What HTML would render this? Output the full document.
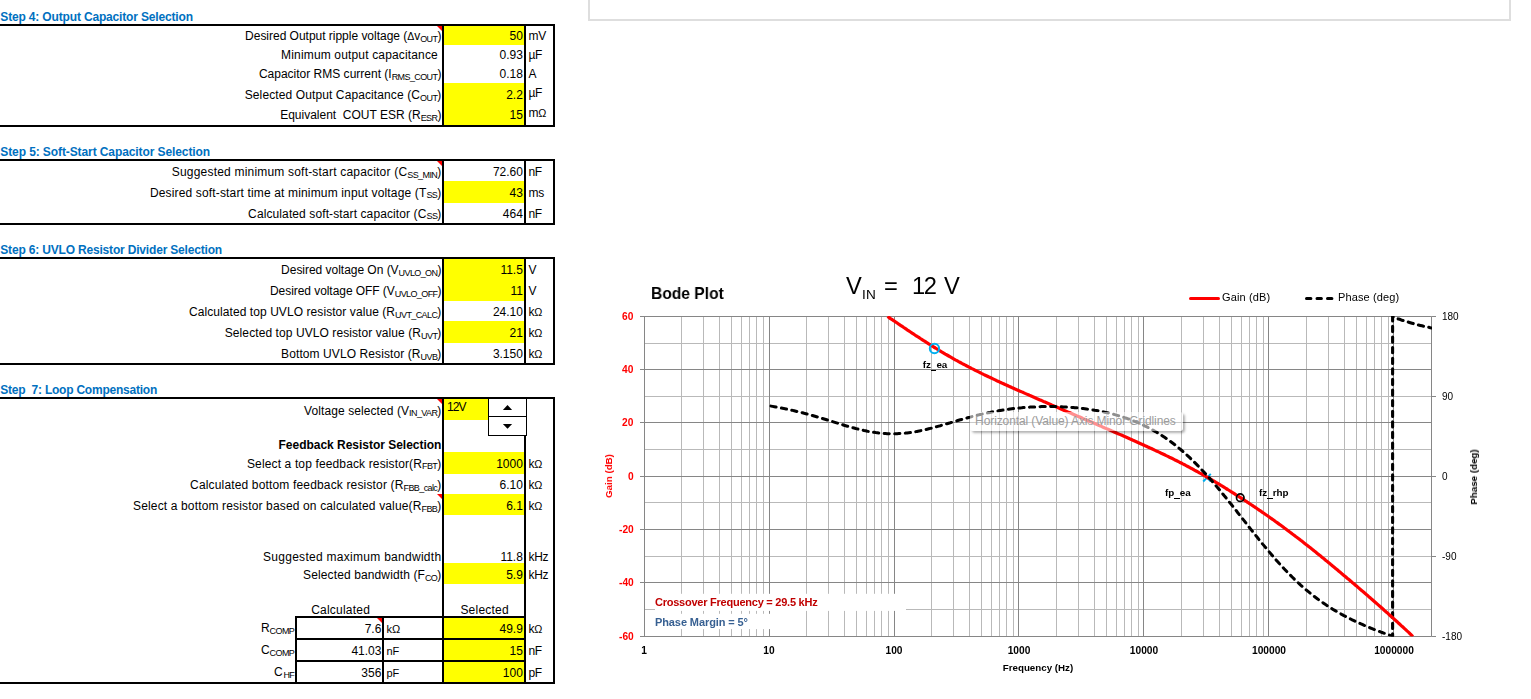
<!DOCTYPE html>
<html><head><meta charset="utf-8"><title>Design sheet</title>
<style>
html,body{margin:0;padding:0;background:#fff;}
body{width:1531px;height:699px;position:relative;overflow:hidden;font-family:"Liberation Sans",sans-serif;color:#000;}
.r{position:absolute;}
.t{position:absolute;white-space:nowrap;}
.ttl{color:#0070c0;font-weight:bold;}
.g{will-change:transform;}
.s{position:relative;}
.us{display:inline-block;width:5.5px;height:0;border-bottom:1.5px solid #000;vertical-align:-2.6px;}
.tri{position:absolute;width:0;height:0;border-left:5px solid transparent;border-top:5px solid #ff0000;}
.spin{position:absolute;background:#fff;border:1px solid #000;box-sizing:content-box;}
.tip{position:absolute;background:rgba(255,255,255,0.56);border-radius:3px;box-shadow:2px 2px 2.5px rgba(0,0,0,0.3);box-sizing:border-box;}
.tip span{position:absolute;left:5.6px;top:2.6px;font-size:12px;line-height:15px;color:#9c9c9c;white-space:nowrap;letter-spacing:-0.1px;}
</style></head><body>
<div class="r" style="left:588px;top:0px;width:2px;height:21px;background:#dedede"></div>
<div class="r" style="left:1509px;top:0px;width:2px;height:21px;background:#dedede"></div>
<div class="r" style="left:588px;top:19px;width:923px;height:2px;background:#dedede"></div>
<div class="t ttl" style="top:10.34px;font-size:12px;line-height:15px;left:0.3px;letter-spacing:-0.160px;">Step 4: Output Capacitor Selection</div>
<div class="t ttl" style="top:144.94px;font-size:12px;line-height:15px;left:0.3px;letter-spacing:-0.097px;">Step 5: Soft-Start Capacitor Selection</div>
<div class="t ttl" style="top:242.84px;font-size:12px;line-height:15px;left:0.3px;letter-spacing:-0.180px;">Step 6: UVLO Resistor Divider Selection</div>
<div class="t ttl" style="top:382.74px;font-size:12px;line-height:15px;left:0.3px;letter-spacing:-0.230px;">Step&nbsp; 7: Loop Compensation</div>
<div class="r" style="left:444px;top:26px;width:80px;height:19px;background:#ffff00"></div>
<div class="t " style="top:28.94px;font-size:12px;line-height:15px;right:1089.6px;letter-spacing:-0.020px;">Desired Output ripple voltage (<span style="font-size:10.5px">Δ</span>v<span class="s" style="font-size:9px;top:1.7px;letter-spacing:-0.6px">OUT</span>)</div>
<div class="t " style="top:28.94px;font-size:12px;line-height:15px;right:1008.2px;letter-spacing:-0.020px;">50</div>
<div class="t " style="top:28.94px;font-size:12px;line-height:15px;left:528.5px;letter-spacing:-0.300px;">mV</div>
<div class="t " style="top:47.94px;font-size:12px;line-height:15px;right:1089.6px;letter-spacing:0.156px;">Minimum output capacitance&nbsp;</div>
<div class="t " style="top:47.94px;font-size:12px;line-height:15px;right:1008.2px;letter-spacing:-0.020px;">0.93</div>
<div class="t " style="top:47.94px;font-size:12px;line-height:15px;left:528.5px;letter-spacing:-0.300px;">µF</div>
<div class="t " style="top:66.94px;font-size:12px;line-height:15px;right:1089.6px;letter-spacing:0.004px;">Capacitor RMS current (I<span class="s" style="font-size:9px;top:1.7px;letter-spacing:-0.6px">RMS_COUT</span>)</div>
<div class="t " style="top:66.94px;font-size:12px;line-height:15px;right:1008.2px;letter-spacing:-0.020px;">0.18</div>
<div class="t " style="top:66.94px;font-size:12px;line-height:15px;left:528.5px;letter-spacing:-0.300px;">A</div>
<div class="r" style="left:444px;top:83px;width:80px;height:21px;background:#ffff00"></div>
<div class="t " style="top:87.94px;font-size:12px;line-height:15px;right:1089.6px;letter-spacing:0.109px;">Selected Output Capacitance (C<span class="s" style="font-size:9px;top:1.7px;letter-spacing:-0.6px">OUT</span>)</div>
<div class="t " style="top:87.94px;font-size:12px;line-height:15px;right:1008.2px;letter-spacing:-0.020px;">2.2</div>
<div class="t " style="top:86.04px;font-size:12px;line-height:15px;left:528.5px;letter-spacing:-0.300px;">µF</div>
<div class="r" style="left:444px;top:104px;width:80px;height:21px;background:#ffff00"></div>
<div class="t " style="top:108.34px;font-size:12px;line-height:15px;right:1089.6px;letter-spacing:0.003px;">Equivalent&nbsp; COUT ESR (R<span class="s" style="font-size:9px;top:1.7px;letter-spacing:-0.6px">ESR</span>)</div>
<div class="t " style="top:108.34px;font-size:12px;line-height:15px;right:1008.2px;letter-spacing:-0.020px;">15</div>
<div class="t " style="top:106.14px;font-size:12px;line-height:15px;left:528.5px;letter-spacing:-0.300px;">m<span style="font-size:10.8px">Ω</span></div>
<div class="r" style="left:0px;top:24px;width:555px;height:2px;background:#000"></div>
<div class="r" style="left:0px;top:125px;width:555px;height:2px;background:#000"></div>
<div class="r" style="left:442px;top:24px;width:2px;height:103px;background:#000"></div>
<div class="r" style="left:524px;top:24px;width:2px;height:103px;background:#000"></div>
<div class="r" style="left:553px;top:24px;width:2px;height:103px;background:#000"></div>
<div class="tri" style="left:437px;top:26px"></div>
<div class="t " style="top:164.94px;font-size:12px;line-height:15px;right:1089.6px;letter-spacing:0.197px;">Suggested minimum soft-start capacitor (C<span class="s" style="font-size:9px;top:1.7px;letter-spacing:-0.6px">SS_MIN</span>)</div>
<div class="t " style="top:164.94px;font-size:12px;line-height:15px;right:1008.2px;letter-spacing:-0.020px;">72.60</div>
<div class="t " style="top:164.94px;font-size:12px;line-height:15px;left:528.5px;letter-spacing:-0.300px;">nF</div>
<div class="r" style="left:444px;top:181px;width:80px;height:22px;background:#ffff00"></div>
<div class="t " style="top:185.74px;font-size:12px;line-height:15px;right:1089.6px;letter-spacing:0.152px;">Desired soft-start time at minimum input voltage (T<span class="s" style="font-size:9px;top:1.7px;letter-spacing:-0.6px">SS</span>)</div>
<div class="t " style="top:185.74px;font-size:12px;line-height:15px;right:1008.2px;letter-spacing:-0.020px;">43</div>
<div class="t " style="top:185.74px;font-size:12px;line-height:15px;left:528.5px;letter-spacing:-0.300px;">ms</div>
<div class="t " style="top:206.74px;font-size:12px;line-height:15px;right:1089.6px;letter-spacing:0.107px;">Calculated soft-start capacitor (C<span class="s" style="font-size:9px;top:1.7px;letter-spacing:-0.6px">SS</span>)</div>
<div class="t " style="top:206.74px;font-size:12px;line-height:15px;right:1008.2px;letter-spacing:-0.020px;">464</div>
<div class="t " style="top:206.74px;font-size:12px;line-height:15px;left:528.5px;letter-spacing:-0.300px;">nF</div>
<div class="r" style="left:0px;top:159px;width:555px;height:2px;background:#000"></div>
<div class="r" style="left:0px;top:223px;width:555px;height:2px;background:#000"></div>
<div class="r" style="left:442px;top:159px;width:2px;height:66px;background:#000"></div>
<div class="r" style="left:524px;top:159px;width:2px;height:66px;background:#000"></div>
<div class="r" style="left:553px;top:159px;width:2px;height:66px;background:#000"></div>
<div class="tri" style="left:437px;top:161px"></div>
<div class="r" style="left:444px;top:259px;width:80px;height:21px;background:#ffff00"></div>
<div class="t " style="top:263.14px;font-size:12px;line-height:15px;right:1089.6px;letter-spacing:-0.027px;">Desired voltage On (V<span class="s" style="font-size:9px;top:1.7px;letter-spacing:-0.6px">UVLO_ON</span>)</div>
<div class="t " style="top:263.14px;font-size:12px;line-height:15px;right:1008.2px;letter-spacing:-0.020px;">11.5</div>
<div class="t " style="top:263.14px;font-size:12px;line-height:15px;left:528.5px;letter-spacing:-0.300px;">V</div>
<div class="r" style="left:444px;top:280px;width:80px;height:21px;background:#ffff00"></div>
<div class="t " style="top:284.04px;font-size:12px;line-height:15px;right:1089.6px;letter-spacing:-0.059px;">Desired voltage OFF (V<span class="s" style="font-size:9px;top:1.7px;letter-spacing:-0.6px">UVLO_OFF</span>)</div>
<div class="t " style="top:284.04px;font-size:12px;line-height:15px;right:1008.2px;letter-spacing:-0.020px;">11</div>
<div class="t " style="top:284.04px;font-size:12px;line-height:15px;left:528.5px;letter-spacing:-0.300px;">V</div>
<div class="t " style="top:305.34px;font-size:12px;line-height:15px;right:1089.6px;letter-spacing:0.073px;">Calculated top UVLO resistor value (R<span class="s" style="font-size:9px;top:1.7px;letter-spacing:-0.6px">UVT_CALC</span>)</div>
<div class="t " style="top:305.34px;font-size:12px;line-height:15px;right:1008.2px;letter-spacing:-0.020px;">24.10</div>
<div class="t " style="top:305.34px;font-size:12px;line-height:15px;left:528.5px;letter-spacing:-0.300px;">k<span style="font-size:10.8px">Ω</span></div>
<div class="r" style="left:444px;top:321px;width:80px;height:22px;background:#ffff00"></div>
<div class="t " style="top:326.34px;font-size:12px;line-height:15px;right:1089.6px;letter-spacing:0.083px;">Selected top UVLO resistor value (R<span class="s" style="font-size:9px;top:1.7px;letter-spacing:-0.6px">UVT</span>)</div>
<div class="t " style="top:326.34px;font-size:12px;line-height:15px;right:1008.2px;letter-spacing:-0.020px;">21</div>
<div class="t " style="top:326.34px;font-size:12px;line-height:15px;left:528.5px;letter-spacing:-0.300px;">k<span style="font-size:10.8px">Ω</span></div>
<div class="t " style="top:347.24px;font-size:12px;line-height:15px;right:1089.6px;letter-spacing:0.092px;">Bottom UVLO Resistor (R<span class="s" style="font-size:9px;top:1.7px;letter-spacing:-0.6px">UVB</span>)</div>
<div class="t " style="top:347.24px;font-size:12px;line-height:15px;right:1008.2px;letter-spacing:-0.020px;">3.150</div>
<div class="t " style="top:347.24px;font-size:12px;line-height:15px;left:528.5px;letter-spacing:-0.300px;">k<span style="font-size:10.8px">Ω</span></div>
<div class="r" style="left:0px;top:257px;width:555px;height:2px;background:#000"></div>
<div class="r" style="left:0px;top:363px;width:555px;height:2px;background:#000"></div>
<div class="r" style="left:442px;top:257px;width:2px;height:108px;background:#000"></div>
<div class="r" style="left:524px;top:257px;width:2px;height:108px;background:#000"></div>
<div class="r" style="left:553px;top:257px;width:2px;height:108px;background:#000"></div>
<div class="t " style="top:403.74px;font-size:12px;line-height:15px;right:1089.6px;letter-spacing:0.082px;">Voltage selected (V<span class="s" style="font-size:9px;top:1.7px;letter-spacing:-0.6px">IN_VAR</span>)</div>
<div class="t " style="top:437.84px;font-size:12px;line-height:15px;right:1089.6px;letter-spacing:-0.019px;"><b>Feedback Resistor Selection</b></div>
<div class="r" style="left:444px;top:452px;width:80px;height:22px;background:#ffff00"></div>
<div class="t " style="top:456.74px;font-size:12px;line-height:15px;right:1089.6px;letter-spacing:0.135px;">Select a top feedback resistor(R<span class="s" style="font-size:9px;top:1.7px;letter-spacing:-0.6px">FBT</span>)</div>
<div class="t " style="top:456.74px;font-size:12px;line-height:15px;right:1008.2px;letter-spacing:-0.020px;">1000</div>
<div class="t " style="top:456.74px;font-size:12px;line-height:15px;left:528.5px;letter-spacing:-0.300px;">k<span style="font-size:10.8px">Ω</span></div>
<div class="t " style="top:477.84px;font-size:12px;line-height:15px;right:1089.6px;letter-spacing:0.158px;">Calculated bottom feedback resistor (R<span class="s" style="font-size:9px;top:1.7px;letter-spacing:-0.6px">FBB_calc</span>)</div>
<div class="t " style="top:477.84px;font-size:12px;line-height:15px;right:1008.2px;letter-spacing:-0.020px;">6.10</div>
<div class="t " style="top:477.84px;font-size:12px;line-height:15px;left:528.5px;letter-spacing:-0.300px;">k<span style="font-size:10.8px">Ω</span></div>
<div class="r" style="left:444px;top:494px;width:80px;height:21px;background:#ffff00"></div>
<div class="t " style="top:499.14px;font-size:12px;line-height:15px;right:1089.6px;letter-spacing:0.148px;">Select a bottom resistor based on calculated value(R<span class="s" style="font-size:9px;top:1.7px;letter-spacing:-0.6px">FBB</span>)</div>
<div class="t " style="top:499.14px;font-size:12px;line-height:15px;right:1008.2px;letter-spacing:-0.020px;">6.1</div>
<div class="t " style="top:499.14px;font-size:12px;line-height:15px;left:528.5px;letter-spacing:-0.300px;">k<span style="font-size:10.8px">Ω</span></div>
<div class="t " style="top:550.24px;font-size:12px;line-height:15px;right:1089.6px;letter-spacing:0.283px;">Suggested maximum bandwidth</div>
<div class="t " style="top:550.24px;font-size:12px;line-height:15px;right:1008.2px;letter-spacing:-0.020px;">11.8</div>
<div class="t " style="top:550.24px;font-size:12px;line-height:15px;left:528.5px;letter-spacing:-0.300px;">kHz</div>
<div class="r" style="left:444px;top:563px;width:80px;height:21px;background:#ffff00"></div>
<div class="t " style="top:567.94px;font-size:12px;line-height:15px;right:1089.6px;letter-spacing:0.117px;">Selected bandwidth (F<span class="s" style="font-size:9px;top:1.7px;letter-spacing:-0.6px">CO</span>)</div>
<div class="t " style="top:567.94px;font-size:12px;line-height:15px;right:1008.2px;letter-spacing:-0.020px;">5.9</div>
<div class="t " style="top:567.94px;font-size:12px;line-height:15px;left:528.5px;letter-spacing:-0.300px;">kHz</div>
<div class="r" style="left:444px;top:618px;width:80px;height:20px;background:#ffff00"></div>
<div class="t " style="top:622.14px;font-size:12px;line-height:15px;right:1008.2px;letter-spacing:-0.020px;">49.9</div>
<div class="t " style="top:622.14px;font-size:12px;line-height:15px;left:528.5px;letter-spacing:-0.300px;">k<span style="font-size:10.8px">Ω</span></div>
<div class="r" style="left:444px;top:640px;width:80px;height:20px;background:#ffff00"></div>
<div class="t " style="top:644.04px;font-size:12px;line-height:15px;right:1008.2px;letter-spacing:-0.020px;">15</div>
<div class="t " style="top:644.04px;font-size:12px;line-height:15px;left:528.5px;letter-spacing:-0.300px;">nF</div>
<div class="r" style="left:444px;top:662px;width:80px;height:20px;background:#ffff00"></div>
<div class="t " style="top:665.84px;font-size:12px;line-height:15px;right:1008.2px;letter-spacing:-0.020px;">100</div>
<div class="t " style="top:665.84px;font-size:12px;line-height:15px;left:528.5px;letter-spacing:-0.300px;">pF</div>
<div class="r" style="left:0px;top:397px;width:555px;height:2px;background:#000"></div>
<div class="r" style="left:0px;top:682px;width:555px;height:2px;background:#000"></div>
<div class="r" style="left:442px;top:397px;width:2px;height:287px;background:#000"></div>
<div class="r" style="left:524px;top:397px;width:2px;height:287px;background:#000"></div>
<div class="r" style="left:553px;top:397px;width:2px;height:287px;background:#000"></div>
<div class="tri" style="left:437px;top:399px"></div>
<div class="tri" style="left:437px;top:494px"></div>
<div class="tri" style="left:377px;top:618px"></div>
<div class="r" style="left:444px;top:399px;width:45px;height:21px;background:#ffff00"></div>
<div class="t " style="top:399.64px;font-size:12px;line-height:15px;left:447px;letter-spacing:-0.900px;">12V</div>
<div class="spin" style="left:488px;top:398px;width:37px;height:36px"></div>
<div class="r" style="left:488px;top:416px;width:38px;height:1px;background:#000"></div>
<svg class="r" style="left:500px;top:402px" width="16" height="30"><path d="M2.9 7.9 L12.1 7.9 L7.5 3.1 Z M2.9 22 L12.1 22 L7.5 26.8 Z" fill="#000"/></svg>
<div class="t " style="top:603.34px;font-size:12px;line-height:15px;left:311.2px;letter-spacing:0.220px;">Calculated</div>
<div class="t " style="top:603.34px;font-size:12px;line-height:15px;left:460.4px;letter-spacing:0.225px;">Selected</div>
<div class="r" style="left:295px;top:616px;width:231px;height:2px;background:#000"></div>
<div class="r" style="left:295px;top:638px;width:231px;height:2px;background:#000"></div>
<div class="r" style="left:295px;top:660px;width:231px;height:2px;background:#000"></div>
<div class="r" style="left:295px;top:616px;width:2px;height:68px;background:#000"></div>
<div class="r" style="left:382px;top:616px;width:2px;height:68px;background:#000"></div>
<div class="t " style="top:621.14px;font-size:12px;line-height:15px;right:1236.8px;letter-spacing:-0.081px;">R<span class="s" style="font-size:9px;top:1.7px;letter-spacing:-0.6px">COMP</span></div>
<div class="t " style="top:622.14px;font-size:12px;line-height:15px;right:1149.7px;letter-spacing:-0.020px;">7.6</div>
<div class="t " style="top:621.99px;font-size:11px;line-height:14px;left:386.5px;letter-spacing:-0.100px;">kΩ</div>
<div class="t " style="top:643.04px;font-size:12px;line-height:15px;right:1236.8px;letter-spacing:-0.081px;">C<span class="s" style="font-size:9px;top:1.7px;letter-spacing:-0.6px">COMP</span></div>
<div class="t " style="top:644.04px;font-size:12px;line-height:15px;right:1149.7px;letter-spacing:-0.020px;">41.03</div>
<div class="t " style="top:643.89px;font-size:11px;line-height:14px;left:386.5px;letter-spacing:-0.100px;">nF</div>
<div class="t " style="top:664.84px;font-size:12px;line-height:15px;right:1236.8px;letter-spacing:0.816px;">C<span class="s" style="font-size:9px;top:1.7px;letter-spacing:-0.6px">HF</span></div>
<div class="t " style="top:665.84px;font-size:12px;line-height:15px;right:1149.7px;letter-spacing:-0.020px;">356</div>
<div class="t " style="top:665.69px;font-size:11px;line-height:14px;left:386.5px;letter-spacing:-0.100px;">pF</div>
<svg class="r" style="left:0;top:0" width="1531" height="699" viewBox="0 0 1531 699">
<path d="M681.50 316.5V636.50M703.50 316.5V636.50M719.50 316.5V636.50M731.50 316.5V636.50M741.50 316.5V636.50M749.50 316.5V636.50M756.50 316.5V636.50M763.50 316.5V636.50M806.50 316.5V636.50M828.50 316.5V636.50M844.50 316.5V636.50M856.50 316.5V636.50M866.50 316.5V636.50M874.50 316.5V636.50M881.50 316.5V636.50M888.50 316.5V636.50M931.50 316.5V636.50M953.50 316.5V636.50M969.50 316.5V636.50M981.50 316.5V636.50M991.50 316.5V636.50M999.50 316.5V636.50M1006.50 316.5V636.50M1013.50 316.5V636.50M1056.50 316.5V636.50M1078.50 316.5V636.50M1094.50 316.5V636.50M1106.50 316.5V636.50M1116.50 316.5V636.50M1124.50 316.5V636.50M1131.50 316.5V636.50M1138.50 316.5V636.50M1181.50 316.5V636.50M1203.50 316.5V636.50M1219.50 316.5V636.50M1231.50 316.5V636.50M1241.50 316.5V636.50M1249.50 316.5V636.50M1256.50 316.5V636.50M1263.50 316.5V636.50M1306.50 316.5V636.50M1328.50 316.5V636.50M1344.50 316.5V636.50M1356.50 316.5V636.50M1366.50 316.5V636.50M1374.50 316.5V636.50M1381.50 316.5V636.50M1388.50 316.5V636.50" stroke="#b9b9b9" stroke-width="1" fill="none"/>
<path d="M644.5 343.50H1431.5M644.5 396.50H1431.5M644.5 449.50H1431.5M644.5 502.50H1431.5M644.5 556.50H1431.5M644.5 609.50H1431.5" stroke="#b9b9b9" stroke-width="1" fill="none"/>
<path d="M644.50 316.5V636.50M769.50 316.5V636.50M894.50 316.5V636.50M1018.50 316.5V636.50M1143.50 316.5V636.50M1268.50 316.5V636.50M1393.50 316.5V636.50M1431.5 316.5V636.50M640 316.50H1431.50M640 369.50H1431.50M640 422.50H1431.50M640 476.50H1431.50M640 529.50H1431.50M640 582.50H1431.50M640 636.50H1431.50M1431.50 316.50h4.5M1431.50 396.50h4.5M1431.50 476.50h4.5M1431.50 556.50h4.5M1431.50 636.50h4.5" stroke="#868686" stroke-width="1" fill="none"/>
<path d="M1203.2 473.9L1210.8 481.5M1210.8 473.9L1203.2 481.5" stroke="#00b0f0" stroke-width="2" fill="none"/>
<clipPath id="pc"><rect x="644" y="316" width="788" height="320.6"/></clipPath><g clip-path="url(#pc)">
<path d="M1392.6 636.0L1392.6 316.5L1393.7 317.4L1395.4 318.0L1397.1 318.6L1398.7 319.1L1400.4 319.6L1402.0 320.2L1403.7 320.7L1405.4 321.2L1407.0 321.7L1408.7 322.2L1410.3 322.7L1412.0 323.2L1413.7 323.7L1415.3 324.1L1417.0 324.6L1418.6 325.0L1420.3 325.4L1422.0 325.8L1423.6 326.2L1425.3 326.6L1426.9 327.0L1428.6 327.3L1430.3 327.7L1431.9 328.0" stroke="#000" stroke-width="3.1" fill="none" stroke-linejoin="round" stroke-dasharray="5.2 5.4" stroke-dashoffset="3" stroke-linecap="round"/>
<path d="M887.5 316.5L888.9 317.4L890.5 318.6L892.2 319.7L893.9 320.8L895.5 321.9L897.2 323.0L898.8 324.2L900.5 325.3L902.2 326.4L903.8 327.5L905.5 328.6L907.1 329.8L908.8 330.9L910.5 332.0L912.1 333.1L913.8 334.2L915.4 335.3L917.1 336.4L918.8 337.4L920.4 338.5L922.1 339.6L923.7 340.7L925.4 341.7L927.1 342.8L928.7 343.9L930.4 344.9L932.1 345.9L933.7 347.0L935.4 348.0L937.0 349.0L938.7 350.1L940.4 351.1L942.0 352.1L943.7 353.1L945.3 354.1L947.0 355.0L948.7 356.0L950.3 356.9L952.0 357.9L953.6 358.8L955.3 359.8L957.0 360.7L958.6 361.6L960.3 362.5L961.9 363.4L963.6 364.3L965.3 365.1L966.9 366.0L968.6 366.9L970.2 367.7L971.9 368.6L973.6 369.4L975.2 370.3L976.9 371.1L978.6 371.9L980.2 372.7L981.9 373.6L983.5 374.4L985.2 375.2L986.9 376.0L988.5 376.8L990.2 377.5L991.8 378.3L993.5 379.1L995.2 379.9L996.8 380.7L998.5 381.4L1000.1 382.2L1001.8 383.0L1003.5 383.7L1005.1 384.5L1006.8 385.2L1008.4 386.0L1010.1 386.7L1011.8 387.5L1013.4 388.2L1015.1 389.0L1016.7 389.7L1018.4 390.4L1020.1 391.2L1021.7 391.9L1023.4 392.6L1025.1 393.4L1026.7 394.1L1028.4 394.8L1030.0 395.6L1031.7 396.3L1033.4 397.0L1035.0 397.7L1036.7 398.5L1038.3 399.2L1040.0 399.9L1041.7 400.6L1043.3 401.4L1045.0 402.1L1046.6 402.8L1048.3 403.5L1050.0 404.2L1051.6 405.0L1053.3 405.7L1054.9 406.4L1056.6 407.1L1058.3 407.8L1059.9 408.5L1061.6 409.3L1063.2 410.0L1064.9 410.7L1066.6 411.4L1068.2 412.1L1069.9 412.8L1071.6 413.5L1073.2 414.3L1074.9 415.0L1076.5 415.7L1078.2 416.4L1079.9 417.1L1081.5 417.8L1083.2 418.6L1084.8 419.3L1086.5 420.0L1088.2 420.7L1089.8 421.4L1091.5 422.1L1093.1 422.8L1094.8 423.6L1096.5 424.3L1098.1 425.0L1099.8 425.7L1101.4 426.4L1103.1 427.2L1104.8 427.9L1106.4 428.6L1108.1 429.3L1109.7 430.0L1111.4 430.8L1113.1 431.5L1114.7 432.2L1116.4 432.9L1118.1 433.7L1119.7 434.4L1121.4 435.1L1123.0 435.8L1124.7 436.6L1126.4 437.3L1128.0 438.0L1129.7 438.8L1131.3 439.5L1133.0 440.3L1134.7 441.0L1136.3 441.7L1138.0 442.5L1139.6 443.2L1141.3 444.0L1143.0 444.7L1144.6 445.5L1146.3 446.2L1147.9 447.0L1149.6 447.8L1151.3 448.5L1152.9 449.3L1154.6 450.1L1156.2 450.9L1157.9 451.6L1159.6 452.4L1161.2 453.2L1162.9 454.0L1164.6 454.8L1166.2 455.6L1167.9 456.4L1169.5 457.2L1171.2 458.0L1172.9 458.8L1174.5 459.7L1176.2 460.5L1177.8 461.3L1179.5 462.2L1181.2 463.0L1182.8 463.9L1184.5 464.7L1186.1 465.6L1187.8 466.5L1189.5 467.4L1191.1 468.3L1192.8 469.1L1194.4 470.1L1196.1 471.0L1197.8 471.9L1199.4 472.8L1201.1 473.7L1202.7 474.7L1204.4 475.6L1206.1 476.6L1207.7 477.5L1209.4 478.5L1211.1 479.4L1212.7 480.4L1214.4 481.4L1216.0 482.4L1217.7 483.4L1219.4 484.4L1221.0 485.4L1222.7 486.4L1224.3 487.4L1226.0 488.5L1227.7 489.5L1229.3 490.5L1231.0 491.6L1232.6 492.6L1234.3 493.7L1236.0 494.8L1237.6 495.8L1239.3 496.9L1240.9 498.0L1242.6 499.0L1244.3 500.1L1245.9 501.2L1247.6 502.3L1249.2 503.4L1250.9 504.5L1252.6 505.6L1254.2 506.7L1255.9 507.8L1257.6 509.0L1259.2 510.1L1260.9 511.2L1262.5 512.4L1264.2 513.5L1265.9 514.7L1267.5 515.8L1269.2 517.0L1270.8 518.2L1272.5 519.3L1274.2 520.5L1275.8 521.7L1277.5 522.9L1279.1 524.1L1280.8 525.3L1282.5 526.5L1284.1 527.8L1285.8 529.0L1287.4 530.2L1289.1 531.5L1290.8 532.7L1292.4 534.0L1294.1 535.2L1295.7 536.5L1297.4 537.7L1299.1 539.0L1300.7 540.3L1302.4 541.6L1304.1 542.9L1305.7 544.2L1307.4 545.5L1309.0 546.8L1310.7 548.1L1312.4 549.4L1314.0 550.8L1315.7 552.1L1317.3 553.4L1319.0 554.8L1320.7 556.1L1322.3 557.5L1324.0 558.8L1325.6 560.2L1327.3 561.5L1329.0 562.9L1330.6 564.3L1332.3 565.7L1333.9 567.0L1335.6 568.4L1337.3 569.8L1338.9 571.2L1340.6 572.6L1342.2 574.0L1343.9 575.4L1345.6 576.8L1347.2 578.2L1348.9 579.6L1350.6 581.0L1352.2 582.4L1353.9 583.8L1355.5 585.2L1357.2 586.6L1358.9 588.1L1360.5 589.5L1362.2 590.9L1363.8 592.3L1365.5 593.8L1367.2 595.2L1368.8 596.7L1370.5 598.1L1372.1 599.5L1373.8 601.0L1375.5 602.5L1377.1 603.9L1378.8 605.4L1380.4 606.8L1382.1 608.3L1383.8 609.8L1385.4 611.3L1387.1 612.7L1388.7 614.2L1390.4 615.7L1392.1 617.2L1393.7 618.7L1395.4 620.2L1397.1 621.7L1398.7 623.3L1400.4 624.8L1402.0 626.3L1403.7 627.8L1405.4 629.4L1407.0 630.9L1408.7 632.4L1410.3 634.0L1412.0 635.6L1413.0 636.5" stroke="#ff0000" stroke-width="3.2" fill="none" stroke-linejoin="round"/>
<path d="M771.0 406.1L772.6 406.4L774.3 406.7L775.9 407.0L777.6 407.3L779.3 407.6L780.9 407.9L782.6 408.2L784.2 408.6L785.9 408.9L787.6 409.3L789.2 409.6L790.9 410.0L792.6 410.4L794.2 410.8L795.9 411.2L797.5 411.6L799.2 412.0L800.9 412.4L802.5 412.8L804.2 413.3L805.8 413.7L807.5 414.1L809.2 414.6L810.8 415.1L812.5 415.5L814.1 416.0L815.8 416.5L817.5 417.0L819.1 417.5L820.8 418.0L822.4 418.5L824.1 419.0L825.8 419.5L827.4 420.0L829.1 420.5L830.7 421.1L832.4 421.6L834.1 422.1L835.7 422.6L837.4 423.1L839.1 423.6L840.7 424.2L842.4 424.7L844.0 425.2L845.7 425.7L847.4 426.2L849.0 426.6L850.7 427.1L852.3 427.6L854.0 428.0L855.7 428.5L857.3 428.9L859.0 429.3L860.6 429.7L862.3 430.1L864.0 430.5L865.6 430.8L867.3 431.2L868.9 431.5L870.6 431.8L872.3 432.1L873.9 432.3L875.6 432.6L877.2 432.8L878.9 433.0L880.6 433.2L882.2 433.3L883.9 433.5L885.6 433.6L887.2 433.7L888.9 433.7L890.5 433.8L892.2 433.8L893.9 433.8L895.5 433.8L897.2 433.7L898.8 433.6L900.5 433.5L902.2 433.4L903.8 433.3L905.5 433.1L907.1 432.9L908.8 432.7L910.5 432.5L912.1 432.3L913.8 432.0L915.4 431.7L917.1 431.4L918.8 431.1L920.4 430.7L922.1 430.4L923.7 430.0L925.4 429.6L927.1 429.2L928.7 428.8L930.4 428.4L932.1 428.0L933.7 427.5L935.4 427.1L937.0 426.6L938.7 426.1L940.4 425.7L942.0 425.2L943.7 424.7L945.3 424.2L947.0 423.7L948.7 423.2L950.3 422.8L952.0 422.3L953.6 421.8L955.3 421.3L957.0 420.8L958.6 420.3L960.3 419.8L961.9 419.4L963.6 418.9L965.3 418.4L966.9 418.0L968.6 417.5L970.2 417.1L971.9 416.6L973.6 416.2L975.2 415.8L976.9 415.4L978.6 414.9L980.2 414.5L981.9 414.2L983.5 413.8L985.2 413.4L986.9 413.0L988.5 412.7L990.2 412.4L991.8 412.0L993.5 411.7L995.2 411.4L996.8 411.1L998.5 410.8L1000.1 410.5L1001.8 410.2L1003.5 410.0L1005.1 409.7L1006.8 409.5L1008.4 409.3L1010.1 409.0L1011.8 408.8L1013.4 408.6L1015.1 408.4L1016.7 408.2L1018.4 408.1L1020.1 407.9L1021.7 407.8L1023.4 407.6L1025.1 407.5L1026.7 407.4L1028.4 407.2L1030.0 407.1L1031.7 407.0L1033.4 406.9L1035.0 406.9L1036.7 406.8L1038.3 406.7L1040.0 406.7L1041.7 406.6L1043.3 406.6L1045.0 406.6L1046.6 406.6L1048.3 406.5L1050.0 406.5L1051.6 406.6L1053.3 406.6L1054.9 406.6L1056.6 406.6L1058.3 406.7L1059.9 406.7L1061.6 406.8L1063.2 406.9L1064.9 407.0L1066.6 407.1L1068.2 407.2L1069.9 407.3L1071.6 407.4L1073.2 407.5L1074.9 407.7L1076.5 407.8L1078.2 408.0L1079.9 408.2L1081.5 408.4L1083.2 408.6L1084.8 408.8L1086.5 409.0L1088.2 409.2L1089.8 409.5L1091.5 409.7L1093.1 410.0L1094.8 410.3L1096.5 410.5L1098.1 410.8L1099.8 411.2L1101.4 411.5L1103.1 411.8L1104.8 412.2L1106.4 412.6L1108.1 412.9L1109.7 413.3L1111.4 413.8L1113.1 414.2L1114.7 414.6L1116.4 415.1L1118.1 415.6L1119.7 416.1L1121.4 416.6L1123.0 417.1L1124.7 417.7L1126.4 418.2L1128.0 418.8L1129.7 419.4L1131.3 420.0L1133.0 420.7L1134.7 421.3L1136.3 422.0L1138.0 422.7L1139.6 423.5L1141.3 424.2L1143.0 425.0L1144.6 425.8L1146.3 426.6L1147.9 427.4L1149.6 428.3L1151.3 429.2L1152.9 430.1L1154.6 431.1L1156.2 432.0L1157.9 433.0L1159.6 434.1L1161.2 435.1L1162.9 436.2L1164.6 437.3L1166.2 438.4L1167.9 439.6L1169.5 440.8L1171.2 442.0L1172.9 443.3L1174.5 444.5L1176.2 445.8L1177.8 447.2L1179.5 448.6L1181.2 450.0L1182.8 451.4L1184.5 452.8L1186.1 454.3L1187.8 455.8L1189.5 457.4L1191.1 459.0L1192.8 460.6L1194.4 462.2L1196.1 463.9L1197.8 465.6L1199.4 467.3L1201.1 469.0L1202.7 470.8L1204.4 472.6L1206.1 474.4L1207.7 476.2L1209.4 478.1L1211.1 480.0L1212.7 481.9L1214.4 483.8L1216.0 485.8L1217.7 487.7L1219.4 489.7L1221.0 491.7L1222.7 493.8L1224.3 495.8L1226.0 497.8L1227.7 499.9L1229.3 502.0L1231.0 504.0L1232.6 506.1L1234.3 508.2L1236.0 510.3L1237.6 512.5L1239.3 514.6L1240.9 516.7L1242.6 518.8L1244.3 520.9L1245.9 523.0L1247.6 525.1L1249.2 527.3L1250.9 529.4L1252.6 531.5L1254.2 533.6L1255.9 535.6L1257.6 537.7L1259.2 539.8L1260.9 541.8L1262.5 543.9L1264.2 545.9L1265.9 547.9L1267.5 549.9L1269.2 551.9L1270.8 553.8L1272.5 555.8L1274.2 557.7L1275.8 559.6L1277.5 561.5L1279.1 563.3L1280.8 565.1L1282.5 566.9L1284.1 568.7L1285.8 570.5L1287.4 572.2L1289.1 573.9L1290.8 575.6L1292.4 577.2L1294.1 578.9L1295.7 580.5L1297.4 582.0L1299.1 583.6L1300.7 585.1L1302.4 586.6L1304.1 588.0L1305.7 589.5L1307.4 590.9L1309.0 592.2L1310.7 593.6L1312.4 594.9L1314.0 596.2L1315.7 597.5L1317.3 598.7L1319.0 600.0L1320.7 601.2L1322.3 602.3L1324.0 603.5L1325.6 604.6L1327.3 605.7L1329.0 606.8L1330.6 607.8L1332.3 608.9L1333.9 609.9L1335.6 610.9L1337.3 611.9L1338.9 612.8L1340.6 613.7L1342.2 614.7L1343.9 615.6L1345.6 616.4L1347.2 617.3L1348.9 618.2L1350.6 619.0L1352.2 619.8L1353.9 620.6L1355.5 621.4L1357.2 622.2L1358.9 622.9L1360.5 623.7L1362.2 624.4L1363.8 625.2L1365.5 625.9L1367.2 626.6L1368.8 627.3L1370.5 628.0L1372.1 628.6L1373.8 629.3L1375.5 630.0L1377.1 630.6L1378.8 631.2L1380.4 631.9L1382.1 632.5L1383.8 633.1L1385.4 633.7L1387.1 634.3L1388.7 634.9L1390.4 635.5L1392.6 636.0" stroke="#000" stroke-width="3" fill="none" stroke-linejoin="round" stroke-dasharray="5.2 5.4" stroke-linecap="round"/>
</g>
<circle cx="934.45" cy="348.5" r="4.65" stroke="#00b0f0" stroke-width="2" fill="none"/>
<circle cx="1240.25" cy="497.7" r="3.75" stroke="#000" stroke-width="1.7" fill="none"/>
<path d="M1190.5 298.4H1218.5" stroke="#ff0000" stroke-width="3" stroke-linecap="round"/>
<path d="M1306.5 298.4H1333" stroke="#000" stroke-width="3" stroke-dasharray="4.4 6.1" stroke-linecap="round"/>
<rect x="655" y="593.8" width="251" height="17.1" fill="#fff"/>
<rect x="655" y="613.8" width="116" height="15.3" fill="#fff"/>
</svg>
<div class="t g" style="top:282.78px;font-size:16.5px;line-height:21px;left:651.0px;font-weight:bold;transform:scaleX(0.945);transform-origin:0 0;">Bode Plot</div>
<div class="t g" style="top:270.79px;font-size:23.7px;line-height:30px;left:845.6px;">V</div>
<div class="t g" style="top:286.09px;font-size:13.6px;line-height:17px;left:862.3px;letter-spacing:0.2px;">IN</div>
<div class="t g" style="top:270.79px;font-size:23.7px;line-height:30px;left:883.6px;">=</div>
<div class="t g" style="top:270.79px;font-size:23.7px;line-height:30px;left:911.6px;letter-spacing:-1.3px;">12</div>
<div class="t g" style="top:270.79px;font-size:23.7px;line-height:30px;left:943.9px;">V</div>
<div class="t g" style="top:289.99px;font-size:11px;line-height:14px;left:1222px;letter-spacing:0.15px;">Gain (dB)</div>
<div class="t g" style="top:289.99px;font-size:11px;line-height:14px;left:1338px;letter-spacing:0.12px;">Phase (deg)</div>
<div class="t g" style="top:309.97px;font-size:10.2px;line-height:13px;right:897.4px;font-weight:bold;color:#ff0000;">60</div>
<div class="t g" style="top:362.97px;font-size:10.2px;line-height:13px;right:897.4px;font-weight:bold;color:#ff0000;">40</div>
<div class="t g" style="top:415.97px;font-size:10.2px;line-height:13px;right:897.4px;font-weight:bold;color:#ff0000;">20</div>
<div class="t g" style="top:469.97px;font-size:10.2px;line-height:13px;right:897.4px;font-weight:bold;color:#ff0000;">0</div>
<div class="t g" style="top:522.97px;font-size:10.2px;line-height:13px;right:897.4px;font-weight:bold;color:#ff0000;">-20</div>
<div class="t g" style="top:575.97px;font-size:10.2px;line-height:13px;right:897.4px;font-weight:bold;color:#ff0000;">-40</div>
<div class="t g" style="top:629.97px;font-size:10.2px;line-height:13px;right:897.4px;font-weight:bold;color:#ff0000;">-60</div>
<div class="t g" style="top:310.63px;font-size:10px;line-height:12px;left:1442.2px;">180</div>
<div class="t g" style="top:390.63px;font-size:10px;line-height:12px;left:1442.2px;">90</div>
<div class="t g" style="top:470.63px;font-size:10px;line-height:12px;left:1442.2px;">0</div>
<div class="t g" style="top:550.64px;font-size:10px;line-height:12px;left:1442.2px;">-90</div>
<div class="t g" style="top:630.64px;font-size:10px;line-height:12px;left:1442.2px;">-180</div>
<div class="t g" style="top:644.17px;font-size:10.2px;line-height:13px;left:493.70000000000005px;width:300px;text-align:center;font-weight:bold;">1</div>
<div class="t g" style="top:644.17px;font-size:10.2px;line-height:13px;left:619.45px;width:300px;text-align:center;font-weight:bold;">10</div>
<div class="t g" style="top:644.17px;font-size:10.2px;line-height:13px;left:744.4px;width:300px;text-align:center;font-weight:bold;">100</div>
<div class="t g" style="top:644.17px;font-size:10.2px;line-height:13px;left:869.35px;width:300px;text-align:center;font-weight:bold;">1000</div>
<div class="t g" style="top:644.17px;font-size:10.2px;line-height:13px;left:994.3000000000002px;width:300px;text-align:center;font-weight:bold;">10000</div>
<div class="t g" style="top:644.17px;font-size:10.2px;line-height:13px;left:1119.25px;width:300px;text-align:center;font-weight:bold;">100000</div>
<div class="t g" style="top:644.17px;font-size:10.2px;line-height:13px;left:1244.2000000000003px;width:300px;text-align:center;font-weight:bold;">1000000</div>
<div class="t g" style="top:661.82px;font-size:9.75px;line-height:12px;left:887.7px;width:300px;text-align:center;font-weight:bold;">Frequency (Hz)</div>
<div class="t g" style="top:595.19px;font-size:11px;line-height:14px;left:655px;font-weight:bold;color:#c00000;letter-spacing:-0.24px;">Crossover Frequency = 29.5 kHz</div>
<div class="t g" style="top:615.19px;font-size:11px;line-height:14px;left:655px;font-weight:bold;color:#376092;letter-spacing:-0.1px;">Phase Margin = 5°</div>
<div class="t g" style="top:359.39px;font-size:9.85px;line-height:12px;left:784.9px;width:300px;text-align:center;font-weight:bold;">fz<span class="us"></span>ea</div>
<div class="t g" style="top:486.79px;font-size:9.85px;line-height:12px;left:1165.2px;font-weight:bold;">fp<span class="us"></span>ea</div>
<div class="t g" style="top:486.79px;font-size:9.85px;line-height:12px;left:1258.6px;font-weight:bold;">fz<span class="us"></span>rhp</div>
<div class="t g" style="left:609.3px;top:476.3px;font-size:9.75px;font-weight:bold;color:#ff0000;transform:translate(-50%,-50%) rotate(-90deg);line-height:12px">Gain (dB)</div>
<div class="t g" style="left:1474.2px;top:476.9px;font-size:9.75px;font-weight:bold;transform:translate(-50%,-50%) rotate(-90deg);line-height:12px">Phase (deg)</div>
<div class="tip" style="left:969.5px;top:411.5px;width:213px;height:19px"><span>Horizontal (Value) Axis Minor Gridlines</span></div>
</body></html>
